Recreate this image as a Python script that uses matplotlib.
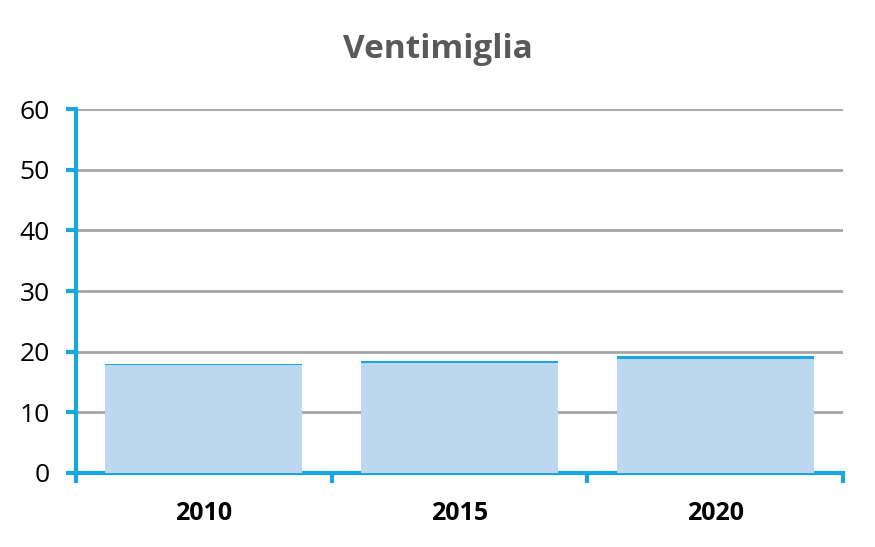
import matplotlib
matplotlib.use('Agg')
import matplotlib.pyplot as plt

years = ['2010', '2015', '2020']
base = [17.8, 18.2, 18.8]
top = [0.2, 0.2, 0.5]
yticks = [0, 10, 20, 30, 40, 50, 60]

blue = '#1aa7e0'
light = '#bdd7ee'

plt.rcParams['font.family'] = ['Open Sans', 'DejaVu Sans']

fig = plt.figure(figsize=(8.75, 5.47), dpi=100)
ax = fig.add_axes([0.0869, 0.1353, 0.8765, 0.6654])

x = range(len(years))
ax.bar(x, base, width=0.77, color=light, zorder=3)
ax.bar(x, top, bottom=base, width=0.77, color=blue, zorder=3)

ax.set_xlim(-0.5, len(years) - 0.5)
ax.set_ylim(0, 60)
ax.set_yticks(yticks)
ax.yaxis.grid(True, color='#a6a6a6', linewidth=2, zorder=0)

# category boundary ticks, labels centred between them
ax.set_xticks([i - 0.5 for i in range(len(years) + 1)])
ax.set_xticklabels([])
ax.set_xticks(list(x), minor=True)
ax.set_xticklabels(years, minor=True, fontsize=18, fontweight='bold')
ax.tick_params(axis='x', which='minor', length=0, pad=20)
ax.tick_params(axis='x', which='major', length=7, width=3, color=blue)
ax.tick_params(axis='y', length=7, width=3, color=blue, labelsize=19, pad=12)

for s in ['top', 'right']:
    ax.spines[s].set_visible(False)
for s in ['left', 'bottom']:
    ax.spines[s].set_color(blue)
    ax.spines[s].set_linewidth(3)

fig.suptitle('Ventimiglia', x=0.5, y=0.94, fontsize=24, fontweight='bold', color='#595959')

fig.savefig('out.png', dpi=100)
